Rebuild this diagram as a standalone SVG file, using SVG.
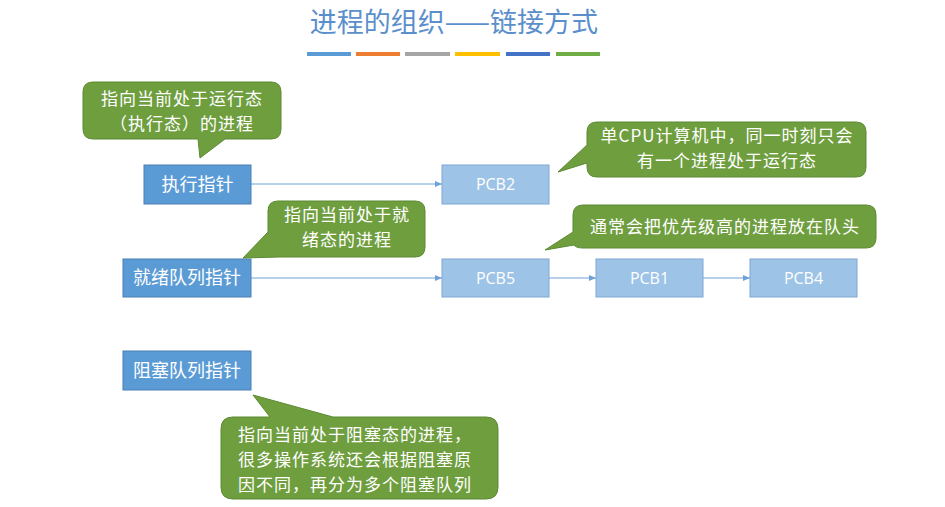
<svg xmlns="http://www.w3.org/2000/svg" width="945" height="507" viewBox="0 0 945 507">
<style>
text{font-family:"Noto Sans CJK SC","Noto Sans",sans-serif;fill:#fff;text-anchor:middle}
.title{fill:#5b8fcc;font-size:27px}
.ptr{fill:#5b9bd5;stroke:#4a7fb5;stroke-width:1}
.pcb{fill:#9dc3e6;stroke:#7fa8d3;stroke-width:1}
.nt{font-size:18px}
.pt{font-family:"Open Sans","Noto Sans",sans-serif;font-size:16px}
.call{fill:#6f9e3f;stroke:#5d8a33;stroke-width:1}
.ct{font-size:17px;letter-spacing:1px}
.conn{stroke:#6fa0d8;stroke-width:1;fill:none;marker-end:url(#ah)}
</style>
<defs>
<marker id="ah" markerWidth="8" markerHeight="8" refX="7" refY="4" orient="auto" markerUnits="userSpaceOnUse">
<path d="M0,1 L7,4 L0,7 Z" fill="#6fa0d8"/>
</marker>
</defs>
<rect width="945" height="507" fill="#fff"/>
<text class="title" x="454" y="32">进程的组织——链接方式</text>
<g id="bars">
<rect x="307" y="52" width="44" height="4" fill="#5b9bd5"/>
<rect x="356" y="52" width="44" height="4" fill="#ed7d31"/>
<rect x="405" y="52" width="45" height="4" fill="#a5a5a5"/>
<rect x="455" y="52" width="45" height="4" fill="#ffc000"/>
<rect x="506" y="52" width="44" height="4" fill="#4472c4"/>
<rect x="556" y="52" width="44" height="4" fill="#70ad47"/>
</g>
<g id="connectors">
<line class="conn" x1="251" y1="184" x2="442" y2="184"/>
<line class="conn" x1="251" y1="278" x2="442" y2="278"/>
<line class="conn" x1="549" y1="278" x2="596" y2="278"/>
<line class="conn" x1="703" y1="278" x2="750" y2="278"/>
</g>
<g id="exec-ptr"><rect class="ptr" x="144" y="165" width="107" height="39"/><text class="nt" x="197.5" y="191">执行指针</text></g>
<g id="ready-ptr"><rect class="ptr" x="123" y="259" width="128" height="38"/><text class="nt" x="187" y="284">就绪队列指针</text></g>
<g id="block-ptr"><rect class="ptr" x="123" y="351" width="128" height="39"/><text class="nt" x="187" y="377">阻塞队列指针</text></g>
<g id="pcb2"><rect class="pcb" x="442" y="165" width="107" height="39"/><text class="pt" x="495.5" y="190">PCB2</text></g>
<g id="pcb5"><rect class="pcb" x="442" y="259" width="107" height="38"/><text class="pt" x="495.5" y="284">PCB5</text></g>
<g id="pcb1"><rect class="pcb" x="596" y="259" width="107" height="38"/><text class="pt" x="649.5" y="284">PCB1</text></g>
<g id="pcb4"><rect class="pcb" x="750" y="259" width="107" height="38"/><text class="pt" x="803.5" y="284">PCB4</text></g>
<g id="callout-exec">
<path class="call" d="M93,82 H271 Q281,82 281,92 V129 Q281,139 271,139 H225 L200,158 L198,139 H93 Q83,139 83,129 V92 Q83,82 93,82 Z"/>
<text class="ct" x="182" y="105">指向当前处于运行态</text>
<text class="ct" x="182" y="130">（执行态）的进程</text>
</g>
<g id="callout-cpu">
<path class="call" d="M597,122 H856 Q866,122 866,132 V167 Q866,177 856,177 H597 Q587,177 587,167 V163 L558,172 L587,145 V132 Q587,122 597,122 Z"/>
<text class="ct" x="727" y="142">单CPU计算机中，同一时刻只会</text>
<text class="ct" x="727" y="167">有一个进程处于运行态</text>
</g>
<g id="callout-ready">
<path class="call" d="M278,201 H415 Q425,201 425,211 V247 Q425,257 415,257 H280 L243,258 L268,232 V211 Q268,201 278,201 Z"/>
<text class="ct" x="347" y="221">指向当前处于就</text>
<text class="ct" x="347" y="246">绪态的进程</text>
</g>
<g id="callout-priority">
<path class="call" d="M583,205 H866 Q876,205 876,215 V238 Q876,248 866,248 H583 Q576,248 574,245 L545,250 L573,232 V215 Q573,205 583,205 Z"/>
<text class="ct" x="725" y="233">通常会把优先级高的进程放在队头</text>
</g>
<g id="callout-block">
<path class="call" d="M233,417 H270 L253,395 L333,417 H486 Q498,417 498,429 V487 Q498,499 486,499 H233 Q221,499 221,487 V429 Q221,417 233,417 Z"/>
<text class="ct" x="238" y="441" style="text-anchor:start">指向当前处于阻塞态的进程，</text>
<text class="ct" x="238" y="466" style="text-anchor:start">很多操作系统还会根据阻塞原</text>
<text class="ct" x="238" y="491" style="text-anchor:start">因不同，再分为多个阻塞队列</text>
</g>
</svg>
